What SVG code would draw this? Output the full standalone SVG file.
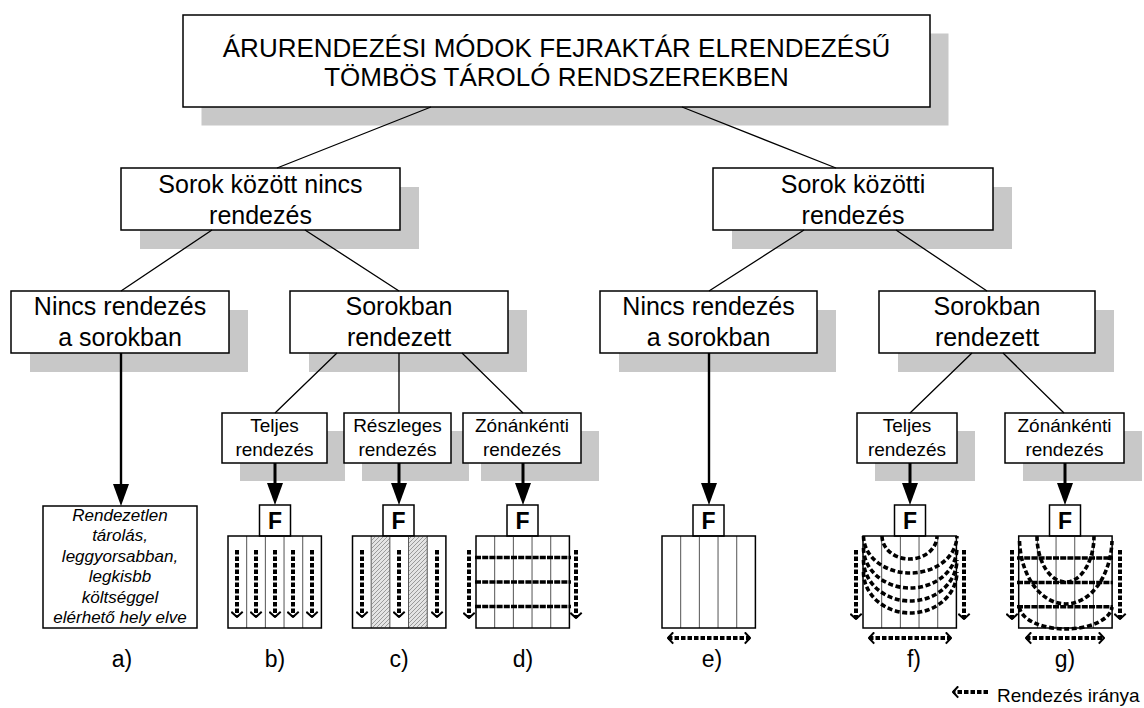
<svg xmlns="http://www.w3.org/2000/svg" xmlns:xlink="http://www.w3.org/1999/xlink" width="1144" height="708" viewBox="0 0 1144 708">
  <style>
    .box{fill:#fff;stroke:#000;stroke-width:1.5}
    .sh{fill:#c8c8c8}
    .t{font-family:"Liberation Sans",Arial,sans-serif;fill:#000;text-anchor:middle}
    .title{font-size:26px}
    .big{font-size:25px}
    .sm{font-size:19px}
    .lbl{font-size:23px}
    .it{font-size:17px;font-style:italic}
    .fl{font-size:23px;font-weight:bold}
    .conn{stroke:#000;stroke-width:1.3;fill:none}
    .arr{stroke:#000;stroke-width:3;fill:none;marker-end:url(#tri)}
    .arr2{stroke:#000;stroke-width:2.4;fill:none;marker-end:url(#tri)}
    .dash{stroke:#000;stroke-width:4;stroke-dasharray:4.5 2;fill:none}
    .down{marker-end:url(#chev)}
    .both{marker-start:url(#chev);marker-end:url(#chev)}
    .row{stroke:#000;stroke-width:3.6;stroke-dasharray:6 1.2;fill:none}
    .arc{stroke:#000;stroke-width:3.6;stroke-dasharray:5 2.6;fill:none}
  </style>
  <defs>
    <marker id="tri" viewBox="0 0 22 16" refX="12" refY="8" markerWidth="22" markerHeight="16" markerUnits="userSpaceOnUse" orient="auto">
      <path d="M0,0 L22,8 L0,16 Z" fill="#000"/>
    </marker>
    <marker id="chev" viewBox="0 0 7 13" refX="6" refY="6.5" markerWidth="7" markerHeight="13" markerUnits="userSpaceOnUse" orient="auto-start-reverse">
      <path d="M0.8,0.8 L6,6.5 L0.8,12.2" fill="none" stroke="#000" stroke-width="2"/>
    </marker>
    <pattern id="hatch" patternUnits="userSpaceOnUse" width="4" height="4">
      <rect width="4" height="4" fill="#e4e4e4"/>
      <path d="M-1,1 L1,-1 M0,4 L4,0 M3,5 L5,3" stroke="#9a9a9a" stroke-width="1"/>
    </pattern>
    <!-- five-lane block store, 93.4 x 92 -->
    <g id="grid">
      <path d="M18.68,0V92M37.36,0V92M56.04,0V92M74.72,0V92" stroke="#555" stroke-width="1"/>
      <rect x="0" y="0" width="93.4" height="92" fill="none" stroke="#000" stroke-width="1.5"/>
    </g>
    <!-- front (F) head box -->
    <g id="fbox">
      <rect x="0" y="0" width="31" height="31" class="box"/>
      <text x="15.5" y="24" class="t fl">F</text>
    </g>
  </defs>

  <rect width="1144" height="708" fill="#fff"/>

  <!-- root -->
  <g id="root">
    <rect x="201.5" y="33.5" width="747" height="92" class="sh"/>
    <rect x="183" y="15" width="747" height="92" class="box"/>
    <text x="556.5" y="57" class="t title">ÁRURENDEZÉSI MÓDOK FEJRAKTÁR ELRENDEZÉSŰ</text>
    <text x="556.5" y="86" class="t title">TÖMBÖS TÁROLÓ RENDSZEREKBEN</text>
  </g>

  <!-- second level -->
  <g id="no-inter-row">
    <rect x="140" y="187" width="279" height="62" class="sh"/>
    <rect x="121" y="168" width="279" height="62" class="box"/>
    <text x="260.5" y="193" class="t big">Sorok között nincs</text>
    <text x="260.5" y="224" class="t big">rendezés</text>
  </g>
  <g id="inter-row">
    <rect x="732" y="187" width="280" height="62" class="sh"/>
    <rect x="713" y="168" width="280" height="62" class="box"/>
    <text x="853" y="193" class="t big">Sorok közötti</text>
    <text x="853" y="224" class="t big">rendezés</text>
  </g>

  <!-- third level -->
  <g id="left-none">
    <rect x="30" y="310" width="218" height="62" class="sh"/>
    <rect x="11" y="291" width="218" height="62" class="box"/>
    <text x="120" y="315" class="t big">Nincs rendezés</text>
    <text x="120" y="346" class="t big">a sorokban</text>
  </g>
  <g id="left-sorted">
    <rect x="309" y="310" width="218" height="62" class="sh"/>
    <rect x="290" y="291" width="218" height="62" class="box"/>
    <text x="399" y="315" class="t big">Sorokban</text>
    <text x="399" y="346" class="t big">rendezett</text>
  </g>
  <g id="right-none">
    <rect x="619" y="310" width="217" height="62" class="sh"/>
    <rect x="600" y="291" width="217" height="62" class="box"/>
    <text x="708.5" y="315" class="t big">Nincs rendezés</text>
    <text x="708.5" y="346" class="t big">a sorokban</text>
  </g>
  <g id="right-sorted">
    <rect x="898" y="310" width="216" height="62" class="sh"/>
    <rect x="879" y="291" width="216" height="62" class="box"/>
    <text x="987" y="315" class="t big">Sorokban</text>
    <text x="987" y="346" class="t big">rendezett</text>
  </g>

  <!-- fourth level -->
  <g id="left-full">
    <rect x="240" y="431" width="105" height="50" class="sh"/>
    <rect x="222" y="413" width="105" height="50" class="box"/>
    <text x="274.5" y="432" class="t sm">Teljes</text>
    <text x="274.5" y="456" class="t sm">rendezés</text>
  </g>
  <g id="left-partial">
    <rect x="362" y="431" width="107" height="50" class="sh"/>
    <rect x="344" y="413" width="107" height="50" class="box"/>
    <text x="397.5" y="432" class="t sm">Részleges</text>
    <text x="397.5" y="456" class="t sm">rendezés</text>
  </g>
  <g id="left-zonal">
    <rect x="481" y="431" width="118" height="50" class="sh"/>
    <rect x="463" y="413" width="118" height="50" class="box"/>
    <text x="522" y="432" class="t sm">Zónánkénti</text>
    <text x="522" y="456" class="t sm">rendezés</text>
  </g>
  <g id="right-full">
    <rect x="875" y="431" width="100" height="50" class="sh"/>
    <rect x="857" y="413" width="100" height="50" class="box"/>
    <text x="907" y="432" class="t sm">Teljes</text>
    <text x="907" y="456" class="t sm">rendezés</text>
  </g>
  <g id="right-zonal">
    <rect x="1023" y="431" width="119" height="50" class="sh"/>
    <rect x="1005" y="413" width="119" height="50" class="box"/>
    <text x="1064.5" y="432" class="t sm">Zónánkénti</text>
    <text x="1064.5" y="456" class="t sm">rendezés</text>
  </g>

  <!-- a) unordered storage note -->
  <g id="case-a">
    <rect x="43" y="506" width="154" height="122" class="box"/>
    <text x="120" y="521" class="t it">Rendezetlen</text>
    <text x="120" y="541.4" class="t it">tárolás,</text>
    <text x="120" y="561.8" class="t it">leggyorsabban,</text>
    <text x="120" y="582.2" class="t it">legkisbb</text>
    <text x="120" y="602.6" class="t it">költséggel</text>
    <text x="120" y="623" class="t it">elérhető hely elve</text>
    <text x="122" y="667" class="t lbl">a)</text>
  </g>

  <!-- b) full ordering within rows -->
  <g id="case-b">
    <use xlink:href="#fbox" x="259.5" y="505"/>
    <use xlink:href="#grid" x="228" y="536"/>
    <path class="dash down" d="M237,550V617"/>
    <path class="dash down" d="M256,550V617"/>
    <path class="dash down" d="M275,550V617"/>
    <path class="dash down" d="M293,550V617"/>
    <path class="dash down" d="M312,550V617"/>
    <text x="275" y="667" class="t lbl">b)</text>
  </g>

  <!-- c) partial ordering, hatched lanes left out -->
  <g id="case-c">
    <use xlink:href="#fbox" x="383" y="505"/>
    <rect x="371.7" y="536.7" width="18.2" height="90.6" fill="url(#hatch)"/>
    <rect x="409.1" y="536.7" width="18.2" height="90.6" fill="url(#hatch)"/>
    <use xlink:href="#grid" x="352.5" y="536"/>
    <path class="dash down" d="M362,550V617"/>
    <path class="dash down" d="M399,550V617"/>
    <path class="dash down" d="M437,550V617"/>
    <text x="399" y="667" class="t lbl">c)</text>
  </g>

  <!-- d) zonal ordering -->
  <g id="case-d">
    <use xlink:href="#fbox" x="507" y="505"/>
    <use xlink:href="#grid" x="476" y="536"/>
    <path class="row" d="M475,557.5H571M475,582H571M475,606.5H571"/>
    <path class="dash down" d="M469,550V618"/>
    <path class="dash down" d="M576,550V618"/>
    <text x="523" y="667" class="t lbl">d)</text>
  </g>

  <!-- e) no ordering, inter-row direction only -->
  <g id="case-e">
    <use xlink:href="#fbox" x="693" y="505"/>
    <use xlink:href="#grid" x="662" y="536"/>
    <path class="dash both" d="M668,638H750"/>
    <text x="712" y="667" class="t lbl">e)</text>
  </g>

  <!-- f) full ordering, nested sweeps -->
  <g id="case-f">
    <use xlink:href="#fbox" x="894.5" y="505"/>
    <use xlink:href="#grid" x="863" y="536"/>
    <path class="arc" d="M882,536 A27.5,23 0 0 0 937,536"/>
    <path class="arc" d="M863.5,536 A46.7,37 0 0 0 956.9,536"/>
    <path class="arc" d="M863.5,548 A46.7,40 0 0 0 956.9,548"/>
    <path class="arc" d="M863.5,560 A46.7,41 0 0 0 956.9,560"/>
    <path class="arc" d="M863.5,572 A46.7,41 0 0 0 956.9,572"/>
    <path class="dash down" d="M856,550V619"/>
    <path class="dash down" d="M964,550V619"/>
    <path class="dash both" d="M869,638H951"/>
    <text x="914" y="667" class="t lbl">f)</text>
  </g>

  <!-- g) zonal ordering with sweeps -->
  <g id="case-g">
    <use xlink:href="#fbox" x="1049.5" y="505"/>
    <use xlink:href="#grid" x="1018.7" y="536"/>
    <path class="row" d="M1017,558H1113M1017,582.5H1113M1017,606.7H1113"/>
    <path class="arc" d="M1037,536 A28.5,46 0 0 0 1094,536"/>
    <path class="arc" d="M1019.5,541 A46.3,66 0 0 0 1112,541"/>
    <path class="arc" d="M1019.5,607 A46.3,23 0 0 0 1112,607"/>
    <path class="dash down" d="M1012,550V619"/>
    <path class="dash down" d="M1120,550V619"/>
    <path class="dash both" d="M1026,638H1104"/>
    <text x="1065" y="667" class="t lbl">g)</text>
  </g>

  <!-- legend -->
  <g id="legend">
    <path class="dash" d="M988,692H953" style="marker-end:url(#chev)"/>
    <text x="997" y="702" class="t sm" style="text-anchor:start">Rendezés iránya</text>
  </g>

  <!-- connectors -->
  <g id="connectors">
    <path class="conn" d="M431,107L277,168M682,107L836,168"/>
    <path class="conn" d="M212,230L121,291M305,230L399,291"/>
    <path class="conn" d="M804,230L709,291M896,230L987,291"/>
    <path class="conn" d="M337,353L275,413M399,353L399,413M462,353L523,413"/>
    <path class="conn" d="M972,353L910,413M1003,353L1064,413"/>
    <path class="arr2" d="M121,353V496"/>
    <path class="arr2" d="M709,353V495"/>
    <path class="arr" d="M275,463V495"/>
    <path class="arr" d="M399,463V495"/>
    <path class="arr" d="M523,463V495"/>
    <path class="arr" d="M910,463V495"/>
    <path class="arr" d="M1065,463V495"/>
  </g>
</svg>
